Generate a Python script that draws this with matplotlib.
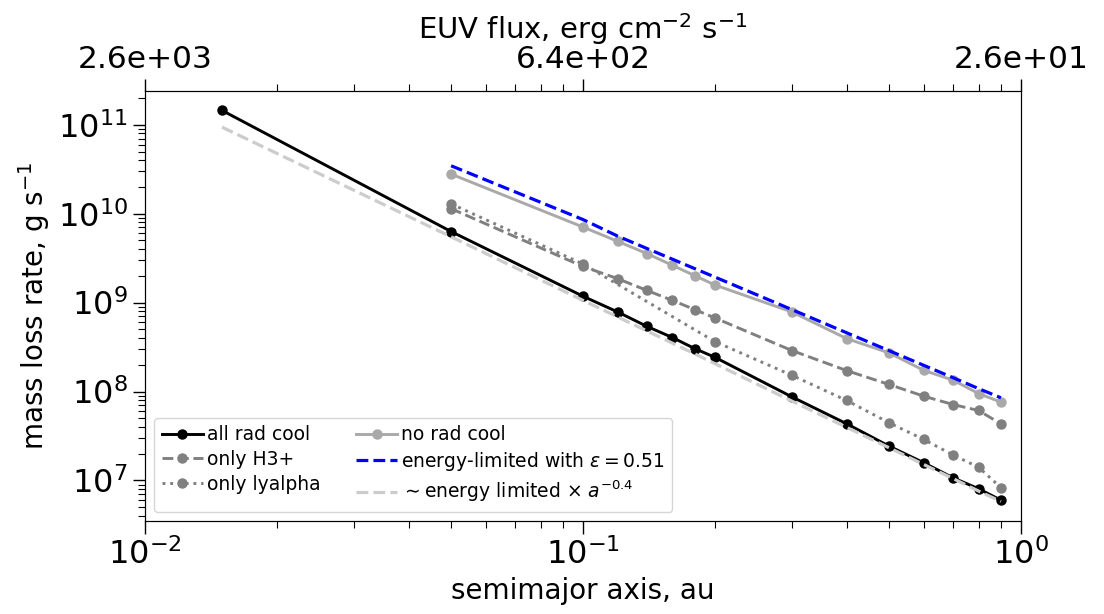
import matplotlib
matplotlib.use('Agg')
import matplotlib.pyplot as plt

# semimajor axis grids, au
a_all = [0.015, 0.05, 0.1, 0.12, 0.14, 0.16, 0.18, 0.2, 0.3, 0.4, 0.5, 0.6, 0.7, 0.8, 0.9]
a_grid = [0.05, 0.1, 0.12, 0.14, 0.16, 0.18, 0.2, 0.3, 0.4, 0.5, 0.6, 0.7, 0.8, 0.9]
a_lya = [0.05, 0.1, 0.2, 0.3, 0.4, 0.5, 0.6, 0.7, 0.8, 0.9]

# mass loss rates, g/s
all_rad_cool = [1.45e11, 6.3e9, 1.18e9, 7.85e8, 5.4e8, 4.05e8, 3.04e8, 2.43e8,
                8.7e7, 4.34e7, 2.43e7, 1.58e7, 1.07e7, 8.07e6, 6.0e6]
no_rad_cool = [2.79e10, 7.08e9, 4.89e9, 3.56e9, 2.63e9, 2.01e9, 1.58e9,
               7.85e8, 3.94e8, 2.72e8, 1.73e8, 1.34e8, 9.5e7, 7.6e7]
only_h3 = [1.14e10, 2.55e9, 1.86e9, 1.37e9, 1.06e9, 8.34e8, 6.73e8,
           2.89e8, 1.72e8, 1.2e8, 8.86e7, 7.14e7, 6.12e7, 4.33e7]
only_lya = [1.29e10, 2.72e9, 3.65e8, 1.52e8, 7.93e7, 4.45e7, 2.89e7, 1.93e7, 1.41e7, 8.3e6]
energy_lim = [3.46e10, 8.6e9, 5.6e9, 4.06e9, 3.08e9, 2.41e9, 1.94e9,
              8.34e8, 4.58e8, 2.88e8, 1.97e8, 1.43e8, 1.08e8, 8.5e7]
scaled_el = [9.4e10, 5.5e9, 1.06e9, 6.9e8, 4.8e8, 3.5e8, 2.65e8, 2.06e8,
             7.8e7, 3.95e7, 2.33e7, 1.51e7, 1.05e7, 7.6e6, 5.8e6]

# EUV flux labels for the top axis
flux_ticks = [0.01, 0.1, 1.0]
flux_labels = ['2.6e+03', '6.4e+02', '2.6e+01']

fig = plt.figure(figsize=(11.04, 6.14), dpi=100)
ax = fig.add_axes([0.1313, 0.1515, 0.7935, 0.7003])

ms = 6.5
l1, = ax.plot(a_all, all_rad_cool, '-o', color='black', lw=2.1, ms=ms, label='all rad cool')
l4, = ax.plot(a_grid, no_rad_cool, '-o', color='darkgray', lw=2.1, ms=ms, label='no rad cool')
l2, = ax.plot(a_grid, only_h3, '--o', color='gray', lw=2.1, ms=ms, label='only H3+')
l3, = ax.plot(a_lya, only_lya, ':o', color='gray', lw=2.1, ms=ms, label='only lyalpha')
l5, = ax.plot(a_grid, energy_lim, '--', color='blue', lw=2.3,
              label=r'energy-limited with $\varepsilon = 0.51$')
l6, = ax.plot(a_all, scaled_el, '--', color='0.8', lw=2.3,
              label=r'$\sim$energy limited $\times$ $a^{-0.4}$')

ax.set_xscale('log')
ax.set_yscale('log')
ax.set_xlim(0.01, 1.0)
ax.set_ylim(3.5e6, 2.4e11)
ax.set_xlabel('semimajor axis, au', fontsize=20)
ax.set_ylabel(r'mass loss rate, g s$^{-1}$', fontsize=20)
ax.tick_params(which='major', labelsize=23, length=9, width=1)
ax.tick_params(which='minor', length=5, width=0.8)

ax2 = ax.twiny()
ax2.set_xscale('log')
ax2.set_xlim(ax.get_xlim())
ax2.set_xticks(flux_ticks)
ax2.set_xticklabels(flux_labels)
ax2.tick_params(which='major', labelsize=22.5, length=9, width=1)
ax2.tick_params(which='minor', length=5, width=0.8)
ax2.set_xlabel(r'EUV flux, erg cm$^{-2}$ s$^{-1}$', fontsize=21)

ax.legend(handles=[l1, l2, l3, l4, l5, l6], ncol=2, loc='lower left',
          fontsize=13.5, handlelength=2.2, handletextpad=0.2,
          columnspacing=1.9, labelspacing=0.3)

fig.savefig('out.png', dpi=100)
